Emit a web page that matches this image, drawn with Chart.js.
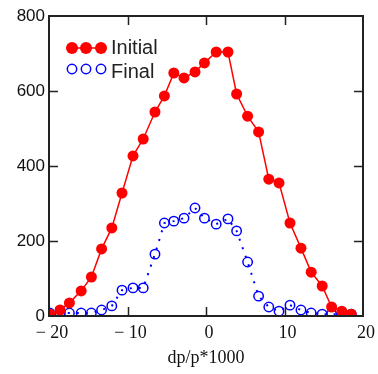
<!DOCTYPE html>
<html>
<head>
<meta charset="utf-8">
<script src="https://cdn.jsdelivr.net/npm/chart.js@4.4.1/dist/chart.umd.min.js"></script>
<style>
  html, body { margin: 0; padding: 0; background: #fff; }
  #wrap { width: 378px; height: 374px; }
</style>
</head>
<body>
<div id="wrap"><canvas id="chart-dp" width="378" height="374"></canvas></div>
<script>
// momentum offset dp/p*1000
const xValues = [-19.9, -18.6, -17.4, -15.9, -14.6, -13.3, -12.0, -10.7, -9.3, -8.0,
                 -6.5, -5.3, -4.1, -2.8, -1.4, -0.2, 1.3, 2.8, 3.9, 5.3,
                 6.7, 8.0, 9.3, 10.7, 12.1, 13.4, 14.8, 16.0, 17.3, 18.5];
const initialValues = [5, 16, 35, 67, 104, 179, 235, 328, 427, 472,
                       544, 587, 648, 635, 651, 675, 704, 704, 592, 533,
                       491, 365, 355, 248, 181, 117, 80, 24, 13, 5];
const finalValues = [8, 8, 8, 8, 8, 16, 27, 69, 75, 75,
                     165, 248, 253, 261, 288, 261, 245, 259, 227, 144,
                     53, 24, 13, 29, 16, 8, 5, 5, 5, 5];
const seriesNames = ['Initial', 'Final'];
const xTicks = [-20, -10, 0, 10, 20];
const yTicks = [0, 200, 400, 600, 800];

function toPoints(xs, ys) {
    return xs.map((x, i) => ({ x: x, y: ys[i] }));
}

// box round the plot with inward ticks, like the original
const frame = {
    id: 'frame',
    afterDatasetsDraw(chart) {
        const ctx = chart.ctx;
        const a = chart.chartArea;
        const sx = chart.scales.x, sy = chart.scales.y;
        ctx.save();
        ctx.strokeStyle = '#222';
        ctx.lineWidth = 2;
        ctx.strokeRect(a.left, a.top, a.right - a.left, a.bottom - a.top);
        ctx.lineWidth = 1.5;
        ctx.beginPath();
        xTicks.slice(1, -1).forEach(v => {
            const px = Math.round(sx.getPixelForValue(v)) + 0.5;
            ctx.moveTo(px, a.bottom); ctx.lineTo(px, a.bottom - 9);
            ctx.moveTo(px, a.top); ctx.lineTo(px, a.top + 9);
        });
        yTicks.slice(1, -1).forEach(v => {
            const py = Math.round(sy.getPixelForValue(v)) + 0.5;
            ctx.moveTo(a.left, py); ctx.lineTo(a.left + 9, py);
            ctx.moveTo(a.right, py); ctx.lineTo(a.right - 9, py);
        });
        ctx.stroke();
        ctx.restore();
    }
};

// legend with three markers per entry
const sampleLegend = {
    id: 'sampleLegend',
    afterDraw(chart) {
        const ctx = chart.ctx;
        const xs = [72, 86, 101];
        ctx.save();
        // Initial
        ctx.strokeStyle = '#ff0000';
        ctx.lineWidth = 1.5;
        ctx.beginPath(); ctx.moveTo(xs[0], 48); ctx.lineTo(xs[2], 48); ctx.stroke();
        ctx.fillStyle = '#ff0000';
        xs.forEach(x => { ctx.beginPath(); ctx.arc(x, 48, 6, 0, Math.PI * 2); ctx.fill(); });
        // Final
        ctx.strokeStyle = '#0000ff';
        xs.forEach(x => { ctx.beginPath(); ctx.arc(x, 69, 4.7, 0, Math.PI * 2); ctx.stroke(); });
        ctx.fillStyle = '#222';
        ctx.font = '20px "Liberation Sans"';
        ctx.textBaseline = 'middle';
        ctx.textAlign = 'left';
        ctx.fillText(seriesNames[0], 111, 48);
        ctx.fillText(seriesNames[1], 111, 72);
        ctx.restore();
    }
};

const chartData = {
    datasets: [{
        label: seriesNames[0],
        data: toPoints(xValues, initialValues),
        showLine: true,
        borderColor: '#ff0000',
        borderWidth: 1.5,
        pointRadius: 5.5,
        pointBorderWidth: 0,
        pointBackgroundColor: '#ff0000',
        pointBorderColor: '#ff0000'
    }, {
        label: seriesNames[1],
        data: toPoints(xValues, finalValues),
        showLine: true,
        borderColor: '#0000ff',
        borderWidth: 2,
        borderDash: [2, 7],
        pointRadius: 4.7,
        pointBorderWidth: 1.5,
        pointBackgroundColor: 'rgba(0,0,0,0)',
        pointBorderColor: '#0000ff'
    }]
};

const options = {
    responsive: false,
    animation: false,
    layout: { padding: { top: 16, right: 8, left: 0, bottom: 0 } },
    plugins: {
        legend: { display: false },
        tooltip: { enabled: false }
    },
    scales: {
        x: {
            type: 'linear',
            min: -20,
            max: 20,
            afterBuildTicks: s => { s.ticks = xTicks.map(v => ({ value: v })); },
            afterFit: s => { s.height = 58; },
            grid: { display: false, drawTicks: false },
            border: { display: false },
            ticks: {
                color: '#111',
                padding: 6,
                labelOffset: 3,
                maxRotation: 0,
                autoSkip: false,
                font: { family: '"Liberation Serif"', size: 18 },
                callback: v => v < 0 ? '\u2212 ' + Math.abs(v) : String(v)
            },
            title: {
                display: true,
                text: 'dp/p*1000',
                color: '#111',
                padding: { top: 0, bottom: 5 },
                font: { family: '"Liberation Serif"', size: 18 }
            }
        },
        y: {
            min: 0,
            max: 800,
            afterBuildTicks: s => { s.ticks = yTicks.map(v => ({ value: v })); },
            afterFit: s => { s.width = 49; },
            grid: { display: false, drawTicks: false },
            border: { display: false },
            ticks: {
                color: '#111',
                padding: 4,
                font: { family: '"Liberation Sans"', size: 17 }
            }
        }
    }
};

const ctx = document.getElementById('chart-dp').getContext('2d');
new Chart(ctx, {
    type: 'scatter',
    data: chartData,
    options: options,
    plugins: [frame, sampleLegend]
});
</script>
</body>
</html>
